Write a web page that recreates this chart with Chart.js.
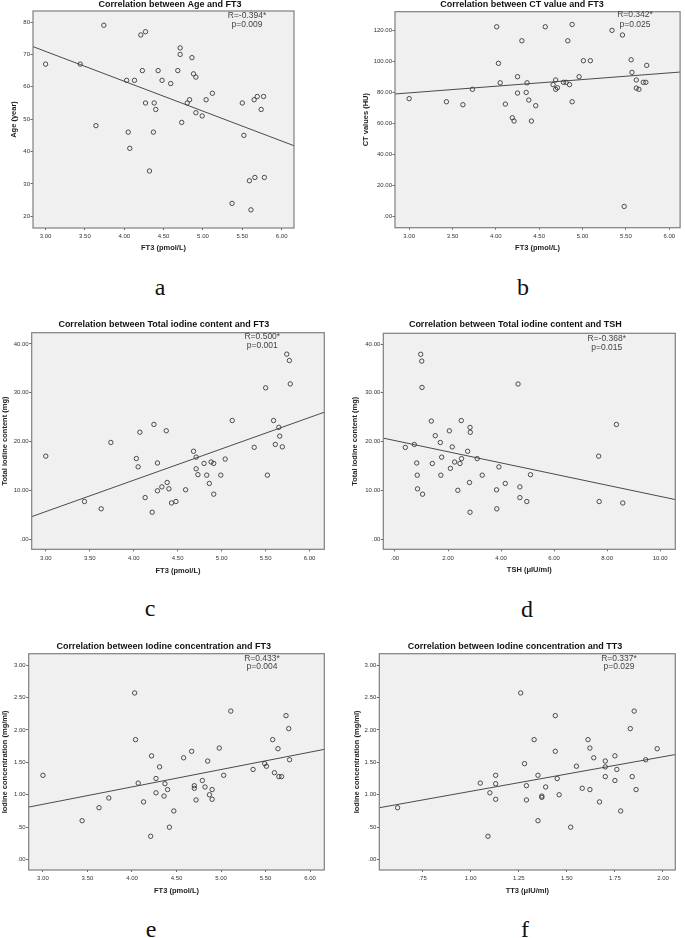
<!DOCTYPE html>
<html>
<head>
<meta charset="utf-8">
<script src="https://cdn.jsdelivr.net/npm/chart.js@4.4.1/dist/chart.umd.min.js"></script>
<style>
    body { margin: 0; background: #fff; width: 685px; height: 938px; position: relative; overflow: hidden; }
    canvas { position: absolute; }
    .tag { position: absolute; font-family: "Liberation Serif", "DejaVu Serif", serif; font-size: 24px; line-height: 24px; transform: translateX(-50%); color: #111; }
</style>
</head>
<body>
<div class="tag" style="left:160px;top:275px">a</div>
<div class="tag" style="left:523px;top:275px">b</div>
<div class="tag" style="left:150px;top:596px">c</div>
<div class="tag" style="left:527px;top:597px">d</div>
<div class="tag" style="left:151px;top:917px">e</div>
<div class="tag" style="left:525px;top:917px">f</div>
<script>
// --- data ---
const ft3Ticks = [3, 3.5, 4, 4.5, 5, 5.5, 6];
const ageTicks = [20, 30, 40, 50, 60, 70, 80];
const ctTicks = [0, 20, 40, 60, 80, 100, 120];
const iodTicks = [0, 10, 20, 30, 40];
const tshTicks = [0, 2, 4, 6, 8, 10];
const concTicks = [0, 0.5, 1, 1.5, 2, 2.5, 3];
const tt3Ticks = [0.75, 1, 1.25, 1.5, 1.75, 2];

// a: Age vs FT3
const ageFt3 = [3.00, 3.44, 3.74, 3.64, 4.03, 4.05, 4.07, 4.13, 4.21, 4.27, 4.23, 4.27, 4.32, 4.37, 4.38, 4.40, 4.43, 4.48, 4.59, 4.68, 4.71, 4.71, 4.73, 4.86, 4.88, 4.91, 4.80, 4.83, 4.91, 4.99, 5.04, 5.12, 5.37, 5.50, 5.52, 5.59, 5.61, 5.65, 5.66, 5.69, 5.74, 5.77, 5.78];
const age = [67, 67, 79, 48, 62, 46, 41, 62, 76, 77, 65, 55, 34, 46, 55, 53, 65, 62, 61, 65, 72, 70, 49, 69, 64, 63, 55, 56, 52, 51, 56, 58, 24, 55, 45, 31, 22, 56, 32, 57, 53, 57, 32];
const ageFit = [72.4, 41.8];

// b: CT value vs FT3
const ctFt3 = [3.00, 3.43, 3.62, 3.73, 4.01, 4.03, 4.05, 4.11, 4.19, 4.21, 4.25, 4.25, 4.30, 4.35, 4.36, 4.38, 4.41, 4.46, 4.57, 4.66, 4.69, 4.69, 4.71, 4.78, 4.81, 4.83, 4.85, 4.88, 4.88, 4.96, 5.01, 5.09, 5.34, 5.46, 5.48, 5.56, 5.57, 5.62, 5.62, 5.65, 5.70, 5.73, 5.74];
const ctValue = [75.9, 73.9, 72.0, 81.9, 122.1, 98.6, 86.1, 72.4, 63.6, 61.5, 90.0, 79.5, 113.1, 79.9, 86.1, 75.0, 61.5, 71.4, 122.1, 84.9, 87.9, 81.9, 82.9, 86.4, 86.4, 113.1, 84.9, 123.6, 73.9, 90.0, 100.3, 100.3, 119.8, 116.8, 6.6, 100.9, 92.8, 87.9, 82.7, 81.9, 86.4, 86.4, 97.3];
const ctFit = [78.9, 93.0];

// c: total iodine content vs FT3
const iodFt3 = [3.00, 3.44, 3.63, 3.74, 4.03, 4.05, 4.07, 4.13, 4.21, 4.23, 4.27, 4.27, 4.32, 4.37, 4.38, 4.40, 4.43, 4.48, 4.59, 4.68, 4.71, 4.71, 4.73, 4.80, 4.83, 4.86, 4.88, 4.91, 4.91, 4.99, 5.04, 5.12, 5.37, 5.50, 5.52, 5.59, 5.61, 5.65, 5.66, 5.69, 5.74, 5.77, 5.78];
const iodContent = [17.0, 7.7, 6.2, 19.8, 16.5, 14.8, 21.9, 8.5, 5.5, 23.5, 9.9, 15.6, 10.7, 22.2, 11.6, 10.3, 7.4, 7.7, 10.1, 18.0, 16.8, 14.4, 13.2, 15.5, 13.1, 11.4, 15.8, 15.5, 9.2, 13.1, 16.4, 24.3, 18.8, 31.0, 13.1, 24.3, 19.4, 22.9, 21.1, 18.9, 37.9, 36.6, 31.8];
const iodFit = [4.6, 26.0];

// d: total iodine content vs TSH
const tsh = [0.39, 0.73, 0.82, 0.84, 0.85, 0.97, 1.01, 1.02, 1.04, 1.37, 1.41, 1.52, 1.71, 1.73, 1.76, 2.05, 2.09, 2.16, 2.25, 2.37, 2.45, 2.50, 2.51, 2.74, 2.83, 2.84, 2.81, 2.83, 3.10, 3.29, 3.83, 3.84, 3.92, 4.16, 4.64, 4.71, 4.71, 4.97, 5.11, 7.68, 7.70, 8.35, 8.59];
const iodContentTsh = [18.8, 19.4, 15.6, 13.1, 10.3, 37.9, 36.5, 31.1, 9.2, 24.2, 15.5, 21.2, 19.8, 13.1, 16.8, 22.2, 14.5, 18.9, 15.8, 10.0, 15.5, 24.3, 16.5, 18.0, 22.9, 21.9, 11.6, 5.5, 16.5, 13.1, 10.1, 6.2, 14.8, 11.4, 31.8, 10.7, 8.5, 7.7, 13.2, 17.0, 7.7, 23.5, 7.4];
const tshFit = [20.7, 8.1];

// e: iodine concentration vs FT3
const concFt3 = [3.00, 3.44, 3.63, 3.74, 4.03, 4.04, 4.07, 4.13, 4.21, 4.22, 4.27, 4.27, 4.31, 4.36, 4.37, 4.40, 4.42, 4.47, 4.58, 4.67, 4.70, 4.70, 4.72, 4.79, 4.82, 4.85, 4.87, 4.90, 4.90, 4.98, 5.03, 5.11, 5.36, 5.49, 5.51, 5.58, 5.60, 5.64, 5.65, 5.68, 5.73, 5.76, 5.77];
const iodConc = [1.30, 0.60, 0.80, 0.95, 2.57, 1.85, 1.18, 0.89, 0.36, 1.60, 1.25, 1.03, 1.43, 0.98, 1.17, 1.08, 0.50, 0.75, 1.57, 1.67, 1.14, 1.10, 0.92, 1.22, 1.12, 1.52, 1.00, 1.08, 0.93, 1.72, 1.30, 2.29, 1.39, 1.48, 1.44, 1.85, 1.34, 1.71, 1.28, 1.28, 2.22, 2.02, 1.54];
const concFit = [0.81, 1.70];

// f: iodine concentration vs TT3
const tt3 = [0.62, 1.05, 1.09, 1.10, 1.13, 1.13, 1.13, 1.26, 1.28, 1.29, 1.29, 1.33, 1.35, 1.35, 1.37, 1.37, 1.39, 1.44, 1.44, 1.45, 1.46, 1.52, 1.55, 1.58, 1.61, 1.62, 1.62, 1.64, 1.67, 1.70, 1.70, 1.70, 1.75, 1.75, 1.76, 1.78, 1.83, 1.84, 1.85, 1.86, 1.91, 1.97];
const iodConcTt3 = [0.80, 1.18, 0.36, 1.03, 1.30, 1.17, 0.93, 2.57, 1.48, 1.14, 0.92, 1.85, 1.30, 0.60, 0.98, 0.96, 1.12, 2.22, 1.67, 1.25, 1.00, 0.50, 1.44, 1.10, 1.85, 1.72, 1.08, 1.57, 0.89, 1.52, 1.43, 1.28, 1.60, 1.22, 1.39, 0.75, 2.02, 1.28, 2.29, 1.08, 1.54, 1.71];
const tt3Fit = [0.80, 1.62];

// SPSS style number labels: ".50", "1.00"
const dec2 = v => v.toFixed(2).replace(/^0\./, '.');
const whole = v => String(v);

const FONT = '"Liberation Sans", Arial, sans-serif';
Chart.defaults.font.family = FONT;

// page layout (px): canvas box, plot area, title, axis titles, R/p note
const panels = [
    {
        box: [0, 0, 342, 262], plot: [33, 11, 294, 228],
        title: 'Correlation between Age and FT3', titlePos: [170, 4.5],
        xs: ageFt3, ys: age, fit: ageFit, xr: [2.84, 6.157], yr: [16.4, 83.4],
        xTicks: ft3Ticks, yTicks: ageTicks, fx: dec2, fy: whole,
        xTitle: 'FT3 (pmol/L)', yTitle: 'Age (year)', xTitleY: 248.3, yTitleX: 14,
        stat: ['R=-0.394*', 'p=0.009'], statPos: [247, 15.7, 24.2]
    },
    {
        box: [343, 0, 342, 262], plot: [395, 11.7, 683.7, 227.7],
        title: 'Correlation between CT value and FT3', titlePos: [522, 4.5],
        xs: ctFt3, ys: ctValue, fit: ctFit, xr: [2.837, 6.125], yr: [-7.07, 131.8],
        xTicks: ft3Ticks, yTicks: ctTicks, fx: dec2, fy: dec2,
        xTitle: 'FT3 (pmol/L)', yTitle: 'CT values (HU)', xTitleY: 248.3, yTitleX: 365.7,
        stat: ['R=0.342*', 'p=0.025'], statPos: [635, 15, 24.3]
    },
    {
        box: [0, 312, 342, 272], plot: [31.7, 332.7, 324.3, 549.3],
        title: 'Correlation between Total iodine content and FT3', titlePos: [163.8, 325],
        xs: iodFt3, ys: iodContent, fit: iodFit, xr: [2.84, 6.167], yr: [-2.1, 42.3],
        xTicks: ft3Ticks, yTicks: iodTicks, fx: dec2, fy: dec2,
        xTitle: 'FT3 (pmol/L)', yTitle: 'Total iodine content (mg)', xTitleY: 570.7, yTitleX: 5,
        stat: ['R=0.500*', 'p=0.001'], statPos: [262.3, 336.7, 345.7]
    },
    {
        box: [343, 312, 342, 272], plot: [383.3, 333.3, 675.3, 549.3],
        title: 'Correlation between Total iodine content and TSH', titlePos: [515.3, 324.7],
        xs: tsh, ys: iodContentTsh, fit: tshFit, xr: [-0.44, 10.57], yr: [-2.1, 42.2],
        xTicks: tshTicks, yTicks: iodTicks, fx: dec2, fy: dec2,
        xTitle: 'TSH (μIU/ml)', yTitle: 'Total iodine content (mg)', xTitleY: 570, yTitleX: 355,
        stat: ['R=-0.368*', 'p=0.015'], statPos: [606.7, 339, 347.3]
    },
    {
        box: [0, 638, 342, 262], plot: [28.7, 653.7, 324.3, 870],
        title: 'Correlation between Iodine concentration and FT3', titlePos: [163.7, 646.7],
        xs: concFt3, ys: iodConc, fit: concFit, xr: [2.84, 6.16], yr: [-0.16, 3.175],
        xTicks: ft3Ticks, yTicks: concTicks, fx: dec2, fy: dec2,
        xTitle: 'FT3 (pmol/L)', yTitle: 'Iodine concentration (mg/ml)', xTitleY: 891, yTitleX: 4.5,
        stat: ['R=0.433*', 'p=0.004'], statPos: [262, 658.3, 666.7]
    },
    {
        box: [343, 638, 342, 262], plot: [379.3, 653.7, 675.3, 870],
        title: 'Correlation between Iodine concentration and TT3', titlePos: [515, 646.7],
        xs: tt3, ys: iodConcTt3, fit: tt3Fit, xr: [0.525, 2.064], yr: [-0.16, 3.175],
        xTicks: tt3Ticks, yTicks: concTicks, fx: dec2, fy: dec2,
        xTitle: 'TT3 (μIU/ml)', yTitle: 'Iodine concentration (mg/ml)', xTitleY: 890.7, yTitleX: 356.7,
        stat: ['R=0.337*', 'p=0.029'], statPos: [619, 658.3, 666.7]
    }
];

// grey plot background, frame, chart title and R/p note
const spssFrame = {
    id: 'spssFrame',
    beforeDraw(chart) {
        const a = chart.chartArea, ctx = chart.ctx;
        ctx.save();
        ctx.fillStyle = '#f0f0f0';
        ctx.fillRect(a.left, a.top, a.right - a.left, a.bottom - a.top);
        ctx.restore();
    },
    afterDatasetsDraw(chart) {
        const a = chart.chartArea, ctx = chart.ctx;
        const p = chart.options.plugins.spssFrame.panel;
        const [cx, cy] = p.box;
        ctx.save();
        ctx.strokeStyle = '#7f7f7f';
        ctx.lineWidth = 1.2;
        ctx.strokeRect(a.left, a.top, a.right - a.left, a.bottom - a.top);
        ctx.textAlign = 'center';
        ctx.textBaseline = 'middle';
        ctx.fillStyle = '#111';
        ctx.font = 'bold 9px ' + FONT;
        ctx.fillText(p.title, p.titlePos[0] - cx, p.titlePos[1] - cy);
        ctx.fillStyle = '#444';
        ctx.font = '8.5px ' + FONT;
        ctx.fillText(p.stat[0], p.statPos[0] - cx, p.statPos[1] - cy);
        ctx.fillText(p.stat[1], p.statPos[0] - cx, p.statPos[2] - cy);
        ctx.restore();
    }
};

function makePanel(p) {
    const [cx, cy, cw, ch] = p.box;
    const [pl, pt, pr, pb] = p.plot;
    const lh = 7.5 * 1.2;
    const cv = document.createElement('canvas');
    cv.width = cw;
    cv.height = ch;
    cv.style.left = cx + 'px';
    cv.style.top = cy + 'px';
    document.body.appendChild(cv);

    new Chart(cv, {
        type: 'scatter',
        data: {
            datasets: [{
                data: p.xs.map((x, i) => ({ x: x, y: p.ys[i] })),
                pointRadius: 2.2,
                pointBorderWidth: 0.9,
                borderColor: '#3a3a3a',
                backgroundColor: 'rgba(0,0,0,0)'
            }, {
                type: 'line',
                data: [{ x: p.xr[0], y: p.fit[0] }, { x: p.xr[1], y: p.fit[1] }],
                borderColor: '#4a4a4a',
                borderWidth: 1,
                pointRadius: 0,
                fill: false
            }]
        },
        options: {
            responsive: false,
            animation: false,
            devicePixelRatio: 1,
            layout: { padding: { left: 0, top: pt - cy, right: cx + cw - pr, bottom: 0 } },
            plugins: {
                legend: { display: false },
                tooltip: { enabled: false },
                spssFrame: { panel: p }
            },
            scales: {
                x: {
                    type: 'linear',
                    min: p.xr[0],
                    max: p.xr[1],
                    afterBuildTicks: s => { s.ticks = p.xTicks.map(v => ({ value: v })); },
                    afterFit: s => { s.height = cy + ch - pb; },
                    grid: { drawOnChartArea: false, drawTicks: true, tickLength: 2, color: '#666' },
                    border: { display: false },
                    ticks: { font: { size: 6 }, color: '#333', padding: 3, maxRotation: 0, autoSkip: false, callback: v => p.fx(v) },
                    title: {
                        display: true, text: p.xTitle, color: '#222',
                        font: { size: 7.5, weight: 'bold' },
                        padding: { top: 0, bottom: cy + ch - p.xTitleY - lh / 2 }
                    }
                },
                y: {
                    type: 'linear',
                    min: p.yr[0],
                    max: p.yr[1],
                    afterBuildTicks: s => { s.ticks = p.yTicks.map(v => ({ value: v })); },
                    afterFit: s => { s.width = pl - cx; },
                    grid: { drawOnChartArea: false, drawTicks: true, tickLength: 2.5, color: '#666' },
                    border: { display: false },
                    ticks: { font: { size: 6 }, color: '#333', padding: 0.5, autoSkip: false, callback: v => p.fy(v) },
                    title: {
                        display: true, text: p.yTitle, color: '#222',
                        font: { size: 7.5, weight: 'bold' },
                        padding: { top: Math.max(0, p.yTitleX - cx - lh / 2), bottom: 0 }
                    }
                }
            }
        },
        plugins: [spssFrame]
    });
}

panels.forEach(makePanel);
</script>
</body>
</html>
